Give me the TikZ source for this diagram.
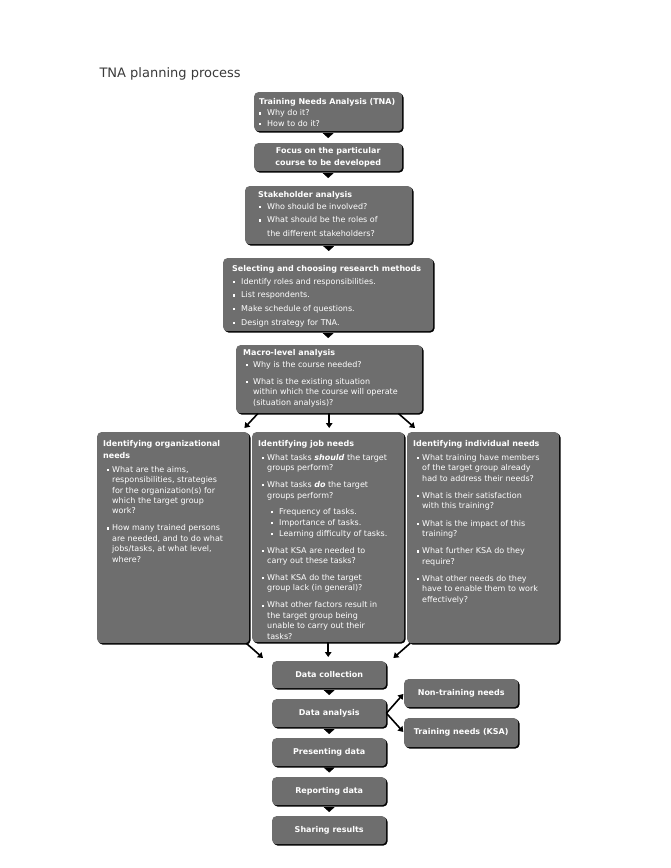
\documentclass[tikz,border=0pt]{standalone}
\usepackage{fontspec}
\setmainfont{DejaVu Sans}
\usetikzlibrary{arrows.meta,shadows,calc}
\definecolor{boxgray}{HTML}{6E6E6E}
\definecolor{titlegray}{HTML}{3A3A3A}
\newlength\bo
\newlength\bi
\newcommand\bsq{\rule[1.2pt]{2.2pt}{2.2pt}}
\newcommand\nl{\newline}
\newcommand\itm[1]{\par\hangindent=\bi\hangafter=1\noindent\makebox[\bi][l]{\hspace*{\bo}\bsq}#1\par}
\newcommand\sitm[1]{\par\hangindent=21pt\hangafter=1\noindent\makebox[21pt][l]{\hspace*{13pt}\bsq}#1\par}
\newcommand\hd[3]{{\bfseries\fontsize{8}{#2pt}\selectfont\rule{0pt}{#1pt}#3\par}}
\newcommand\bc[5]{\begin{minipage}[t][#2pt][t]{#1pt}\fontsize{8}{#4pt}\selectfont\raggedright\leftskip=#3pt\relax #5\end{minipage}}
\begin{document}
\begin{tikzpicture}[x=1pt,y=-1pt,
 box/.style={fill=boxgray, rounded corners=4pt, drop shadow={shadow xshift=1.3pt, shadow yshift=-1.3pt, fill=black, opacity=1}, text=white, inner sep=0pt, anchor=north west},
 sbox/.style={box, minimum width=114pt, minimum height=28pt, font=\bfseries\fontsize{8}{10}\selectfont, align=center},
 tri/.style 2 args={-{Triangle[width=11pt,length=5pt]}, shorten <=#1, shorten >=#2},
 arr/.style={-{Triangle[width=6.5pt,length=5pt]}, line width=1.6pt}
]
\fill[white] (0,0) rectangle (670,868);
\useasboundingbox (0,0) rectangle (670,868);

\node[anchor=base west, font=\fontsize{13}{15}\selectfont, text=titlegray] (title) at (96,77.5) {TNA planning process};

\node[box] (tna) at (254,92) {\bc{148}{39}{5}{10.4}{\setlength\bo{0pt}\setlength\bi{8pt}%
 \hd{12}{12}{Training Needs Analysis (TNA)}\vspace{1.1pt}%
 \itm{Why do it?}\itm{How to do it?}}};

\node[box] (focus) at (254,143) {\bc{148}{28}{0}{12}{\centering\bfseries\rule{0pt}{10.5pt}Focus on the particular\\course to be developed\par}};

\node[box] (stake) at (245,186) {\bc{167}{58}{13}{13.5}{\setlength\bo{1pt}\setlength\bi{9pt}%
 \hd{11}{12}{Stakeholder analysis}\vspace{-1.5pt}%
 \itm{Who should be involved?}\itm{What should be the roles of\nl the different stakeholders?}}};

\node[box] (select) at (223,258) {\bc{210}{73}{9}{13.6}{\setlength\bo{1pt}\setlength\bi{9pt}%
 \hd{13.5}{12}{Selecting and choosing research methods}\vspace{-1.1pt}%
 \itm{Identify roles and responsibilities.}\itm{List respondents.}\itm{Make schedule of questions.}\itm{Design strategy for TNA.}}};

\node[box] (macro) at (236,345) {\bc{186}{68}{7}{10.4}{\setlength\bo{3pt}\setlength\bi{10pt}%
 \hd{10}{12}{Macro-level analysis}\vspace{1.6pt}%
 \itm{Why is the course needed?}\vspace{6.6pt}%
 \itm{What is the existing situation\nl within which the course will operate\nl (situation analysis)?}}};

\node[box] (org) at (97,432) {\bc{152}{211}{6}{10.4}{\setlength\bo{4pt}\setlength\bi{9pt}%
 \hd{14}{12}{Identifying organizational\\needs}\vspace{3.6pt}%
 \itm{What are the aims,\nl responsibilities, strategies\nl for the organization(s) for\nl which the target group\nl work?}\vspace{6.6pt}%
 \itm{How many trained persons\nl are needed, and to do what\nl jobs/tasks, at what level,\nl where?}}};

\node[box] (job) at (252,432) {\bc{152}{210}{6}{10.4}{\setlength\bo{4pt}\setlength\bi{9pt}%
 \hd{14}{12}{Identifying job needs}\vspace{3.6pt}%
 \itm{What tasks \textbf{\textit{should}} the target\nl groups perform?}\vspace{6.6pt}%
 \itm{What tasks \textbf{\textit{do}} the target\nl groups perform?}\vspace{6.2pt}%
 \sitm{Frequency of tasks.}\vspace{0.6pt}%
 \sitm{Importance of tasks.}\vspace{0.6pt}%
 \sitm{Learning difficulty of tasks.}\vspace{6.1pt}%
 \itm{What KSA are needed to\nl carry out these tasks?}\vspace{6.6pt}%
 \itm{What KSA do the target\nl group lack (in general)?}\vspace{6.6pt}%
 \itm{What other factors result in\nl the target group being\nl unable to carry out their\nl tasks?}}};

\node[box] (indiv) at (407,432) {\bc{152}{211}{6}{10.4}{\setlength\bo{4pt}\setlength\bi{9pt}%
 \hd{14}{12}{Identifying individual needs}\vspace{3.6pt}%
 \itm{What training have members\nl of the target group already\nl had to address their needs?}\vspace{6.9pt}%
 \itm{What is their satisfaction\nl with this training?}\vspace{6.9pt}%
 \itm{What is the impact of this\nl training?}\vspace{6.9pt}%
 \itm{What further KSA do they\nl require?}\vspace{6.9pt}%
 \itm{What other needs do they\nl have to enable them to work\nl effectively?}}};

\node[sbox, minimum height=27pt] (dc) at (272,661) {Data collection};
\node[sbox] (da) at (272,699) {Data analysis};
\node[sbox] (pres) at (272,738) {Presenting data};
\node[sbox] (rep) at (272,777) {Reporting data};
\node[sbox] (share) at (272,816) {Sharing results};
\node[sbox] (non) at (404,679) {Non-training needs};
\node[sbox, minimum height=29pt] (train) at (404,718) {Training needs (KSA)};

\draw[tri={2pt}{5pt}] (tna.south) -- (tna.south |- focus.north);
\draw[tri={2pt}{8pt}] (focus.south) -- (focus.south |- stake.north);
\draw[tri={2pt}{7pt}] (stake.south) -- (stake.south |- select.north);
\draw[tri={2pt}{7pt}] (select.south) -- (select.south |- macro.north);
\draw[tri={2pt}{4pt}] (dc.south) -- (da.north);
\draw[tri={2pt}{4pt}] (da.south) -- (pres.north);
\draw[tri={1.5pt}{4.5pt}] (pres.south) -- (rep.north);
\draw[tri={2pt}{4pt}] (rep.south) -- (share.north);

\draw[arr] ($(macro.south west)!0.118!(macro.south east)$) -- ($(org.north east)+(-5,-4)$);
\draw[arr, shorten >=4pt] (macro.south) -- (macro.south |- job.north);
\draw[arr] ($(macro.south west)!0.871!(macro.south east)$) -- ($(indiv.north west)+(8,-4)$);

\draw[arr] ($(org.south east)+(-3,0)$) -- ($(dc.north west)+(-9,-3)$);
\draw[arr, shorten >=4pt] (job.south) -- (job.south |- dc.north);
\draw[arr] ($(indiv.south west)+(3,0)$) -- ($(dc.north east)+(7,-3)$);

\draw[arr, shorten >=1pt] (da.east) -- (non.west);
\draw[arr, shorten >=1pt] (da.east) -- (train.west);
\end{tikzpicture}
\end{document}
